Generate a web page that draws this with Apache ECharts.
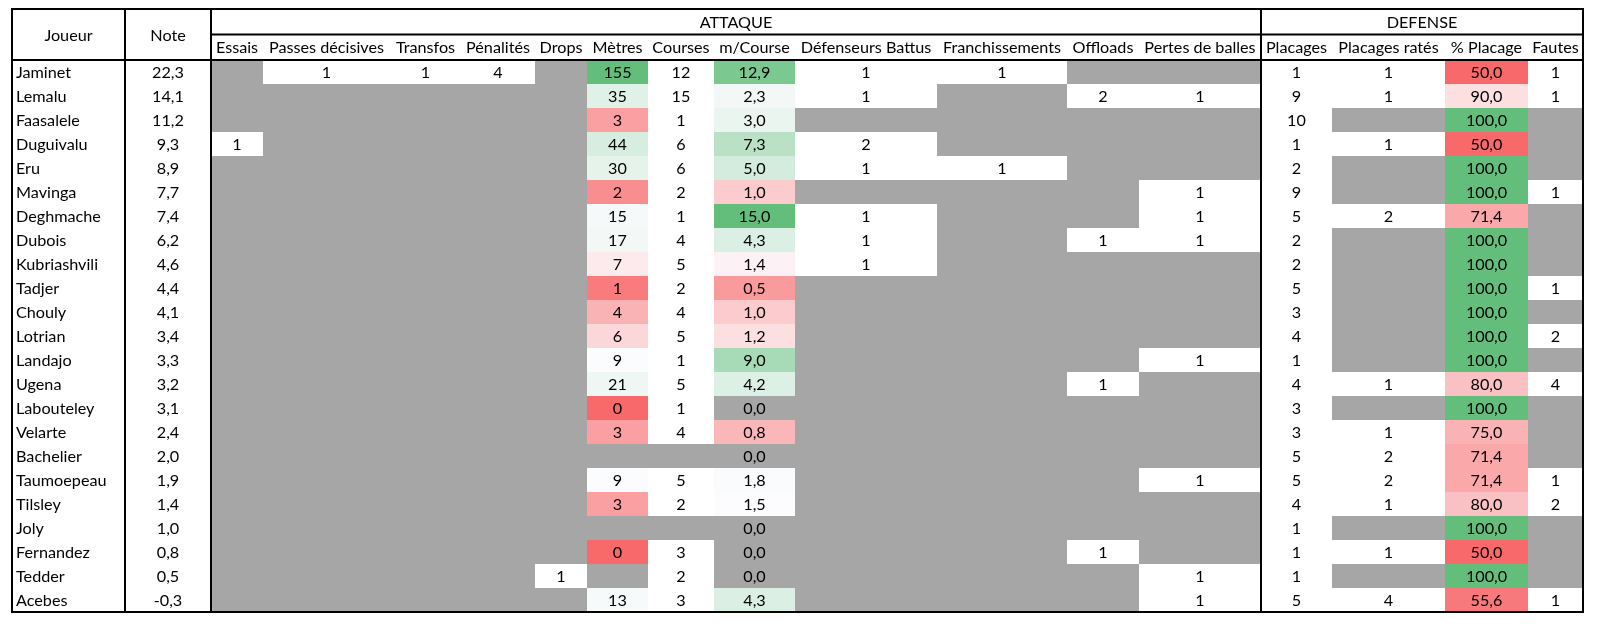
<!DOCTYPE html>
<html><head><meta charset="utf-8">
<script src="https://cdn.jsdelivr.net/npm/echarts@6/dist/echarts.min.js"></script>
<style>html,body{margin:0;padding:0;background:#fff}#c{width:1598px;height:629px}</style>
</head><body><div id="c"></div>
<script>
// ---------------- DATA ----------------
const players = ['Jaminet','Lemalu','Faasalele','Duguivalu','Eru','Mavinga','Deghmache','Dubois','Kubriashvili','Tadjer','Chouly','Lotrian','Landajo','Ugena','Labouteley','Velarte','Bachelier','Taumoepeau','Tilsley','Joly','Fernandez','Tedder','Acebes'];
const notes = [22.3,14.1,11.2,9.3,8.9,7.7,7.4,6.2,4.6,4.4,4.1,3.4,3.3,3.2,3.1,2.4,2.0,1.9,1.4,1.0,0.8,0.5,-0.3];
const essais    = [null,null,null,1,null,null,null,null,null,null,null,null,null,null,null,null,null,null,null,null,null,null,null];
const passes    = [1,null,null,null,null,null,null,null,null,null,null,null,null,null,null,null,null,null,null,null,null,null,null];
const transfos  = [1,null,null,null,null,null,null,null,null,null,null,null,null,null,null,null,null,null,null,null,null,null,null];
const penalites = [4,null,null,null,null,null,null,null,null,null,null,null,null,null,null,null,null,null,null,null,null,null,null];
const drops     = [null,null,null,null,null,null,null,null,null,null,null,null,null,null,null,null,null,null,null,null,null,1,null];
const metres    = [155,35,3,44,30,2,15,17,7,1,4,6,9,21,0,3,null,9,3,null,0,null,13];
const courses   = [12,15,1,6,6,2,1,4,5,2,4,5,1,5,1,4,null,5,2,null,3,2,3];
const mParCourse= [12.9,2.3,3.0,7.3,5.0,1.0,15.0,4.3,1.4,0.5,1.0,1.2,9.0,4.2,0.0,0.8,0.0,1.8,1.5,0.0,0.0,0.0,4.3];
const defBattus = [1,1,null,2,1,null,1,1,1,null,null,null,null,null,null,null,null,null,null,null,null,null,null];
const franch    = [1,null,null,null,1,null,null,null,null,null,null,null,null,null,null,null,null,null,null,null,null,null,null];
const offloads  = [null,2,null,null,null,null,null,1,null,null,null,null,null,1,null,null,null,null,null,null,1,null,null];
const pertes    = [null,1,null,null,null,1,1,1,null,null,null,null,1,null,null,null,null,1,null,null,null,1,1];
const placages  = [1,9,10,1,2,9,5,2,2,5,3,4,1,4,3,3,5,5,4,1,1,1,5];
const plRates   = [1,1,null,1,null,null,2,null,null,null,null,null,null,1,null,1,2,2,1,null,1,null,4];
const pctPlacage= [50.0,90.0,100.0,50.0,100.0,100.0,71.4,100.0,100.0,100.0,100.0,100.0,100.0,80.0,100.0,75.0,71.4,71.4,80.0,100.0,50.0,100.0,55.6];
const fautes    = [1,1,null,null,null,1,null,null,null,1,null,2,null,4,null,null,null,1,2,null,null,null,1];

const groupLabels = ['ATTAQUE','DEFENSE'];
const headers = ['Joueur','Note','Essais','Passes décisives','Transfos','Pénalités','Drops','Mètres','Courses','m/Course','Défenseurs Battus','Franchissements','Offloads','Pertes de balles','Placages','Placages ratés','% Placage','Fautes'];

// ---------------- LAYOUT / STYLE ----------------
const colWidths = [113,86,52,127,71,74,52,61,66,81,142,130,72,122,71,113,83,55];
const FONT = '16.2px Lato';
const GRAY = '#A6A6A6';
const RED=[248,105,107], WHITE=[252,252,255], GREEN=[99,190,123];

const columns = [
  {vals: players, kind:'name'},
  {vals: notes, dec:1, kind:'plain'},
  {vals: essais}, {vals: passes}, {vals: transfos}, {vals: penalites}, {vals: drops},
  {vals: metres, scale:true},
  {vals: courses},
  {vals: mParCourse, dec:1, scale:true, zeroBlank:true},
  {vals: defBattus}, {vals: franch}, {vals: offloads}, {vals: pertes},
  {vals: placages}, {vals: plRates},
  {vals: pctPlacage, dec:1, scale:true},
  {vals: fautes}
];
const colStart = []; let acc = 0;
colWidths.forEach(w => { colStart.push(acc); acc += w; });
const total = acc;
const attStart = 2, defStart = 14;

function median(a){const s=a.filter(v=>v!=null).sort((x,y)=>x-y);const n=s.length;return n%2?s[(n-1)/2]:(s[n/2-1]+s[n/2])/2;}
function mix(a,b,t){return 'rgb('+a.map((v,i)=>Math.round(v+(b[i]-v)*t)).join(',')+')';}
columns.forEach(col=>{
  if(col.scale){
    const v=col.vals.filter(x=>x!=null);
    col.min=Math.min(...v); col.max=Math.max(...v); col.mid=median(col.vals);
  }
});
function scaleColor(col,v){
  if(v>=col.max) return mix(GREEN,GREEN,0);
  if(v<=col.min) return mix(RED,RED,0);
  if(v<=col.mid) return mix(RED,WHITE,(v-col.min)/(col.mid-col.min));
  return mix(WHITE,GREEN,(v-col.mid)/(col.max-col.mid));
}
function fmt(v,dec){return dec? v.toFixed(dec).replace('.',',') : String(v);}

function cellInfo(c,r){
  const col=columns[c]; const v=col.vals[r];
  if(col.kind==='name') return {fill:'#fff', text:v, align:'left'};
  if(col.kind==='plain') return {fill:'#fff', text:fmt(v,col.dec), align:'center'};
  if(v==null) return {fill:GRAY, text:'', align:'center'};
  const text=fmt(v,col.dec);
  if(col.zeroBlank && v===0) return {fill:GRAY, text, align:'center'};
  if(col.scale) return {fill:scaleColor(col,v), text, align:'center'};
  return {fill:'#fff', text, align:'center'};
}

const cellData=[];
for(let r=0;r<players.length;r++) for(let c=0;c<columns.length;c++) cellData.push([c,r]);

// header items: [firstCol, lastCol, rowTop, rowBottom]
const headerData=[
  {value:[0,0,0,2], name:headers[0]},
  {value:[1,1,0,2], name:headers[1]},
  {value:[attStart,defStart-1,0,1], name:groupLabels[0]},
  {value:[defStart,columns.length-1,0,1], name:groupLabels[1]}
];
for(let c=2;c<columns.length;c++) headerData.push({value:[c,c,1,2], name:headers[c]});

const hBorders=[
  [0,0,total,0],[colStart[attStart],1,total,1],
  [0,0,0,2],[colStart[1],0,colStart[1],2],[colStart[attStart],0,colStart[attStart],2],
  [colStart[defStart],0,colStart[defStart],2],[total,0,total,2]
];
const nR=players.length;
const dBorders=[
  [0,0,total,0],[0,nR,total,nR],
  [0,0,0,nR],[colStart[1],0,colStart[1],nR],[colStart[attStart],0,colStart[attStart],nR],
  [colStart[defStart],0,colStart[defStart],nR],[total,0,total,nR]
];

function textEl(x,y,text,align){
  return {type:'text', z2:5, style:{text, x, y, align, verticalAlign:'middle', fill:'#000', font:FONT}};
}
function renderCell(params,api){
  const c=api.value(0), r=api.value(1);
  const p0=api.coord([colStart[c], r]);
  const p1=api.coord([colStart[c]+colWidths[c], r+1]);
  const info=cellInfo(c,r);
  const ch=[{type:'rect', shape:{x:p0[0], y:p0[1], width:p1[0]-p0[0], height:p1[1]-p0[1]}, style:{fill:info.fill}}];
  if(info.text!=='' && info.text!=null){
    const x = info.align==='left' ? p0[0]+4 : (p0[0]+p1[0])/2;
    ch.push(textEl(x,(p0[1]+p1[1])/2+1,info.text,info.align));
  }
  return {type:'group', children:ch};
}
function renderHeader(params,api){
  const c0=api.value(0), c1=api.value(1), y0=api.value(2), y1=api.value(3);
  const p0=api.coord([colStart[c0], y0]);
  const p1=api.coord([colStart[c1]+colWidths[c1], y1]);
  const name=headerData[params.dataIndex].name;
  return textEl((p0[0]+p1[0])/2,(p0[1]+p1[1])/2+1,name,'center');
}
function renderBorder(params,api){
  const a=api.coord([api.value(0),api.value(1)]);
  const b=api.coord([api.value(2),api.value(3)]);
  return {type:'line', z2:10, shape:{x1:a[0],y1:a[1],x2:b[0],y2:b[1]}, style:{stroke:'#000', lineWidth:2, lineCap:'square'}};
}

const chart=echarts.init(document.getElementById('c'),null,{renderer:'canvas'});
chart.setOption({
  animation:false,
  backgroundColor:'#fff',
  grid:[
    {left:12, top:9, width:total, height:51},
    {left:12, top:60, width:total, height:552}
  ],
  xAxis:[
    {type:'value', gridIndex:0, min:0, max:total, show:false},
    {type:'value', gridIndex:1, min:0, max:total, show:false}
  ],
  yAxis:[
    {type:'value', gridIndex:0, min:0, max:2, inverse:true, show:false},
    {type:'value', gridIndex:1, min:0, max:nR, inverse:true, show:false}
  ],
  series:[
    {type:'custom', xAxisIndex:1, yAxisIndex:1, data:cellData, renderItem:renderCell, silent:true, z:1},
    {type:'custom', xAxisIndex:0, yAxisIndex:0, data:headerData, renderItem:renderHeader, silent:true, z:2},
    {type:'custom', xAxisIndex:0, yAxisIndex:0, data:hBorders, renderItem:renderBorder, silent:true, z:5},
    {type:'custom', xAxisIndex:1, yAxisIndex:1, data:dBorders, renderItem:renderBorder, silent:true, z:5}
  ]
});
</script></body></html>
